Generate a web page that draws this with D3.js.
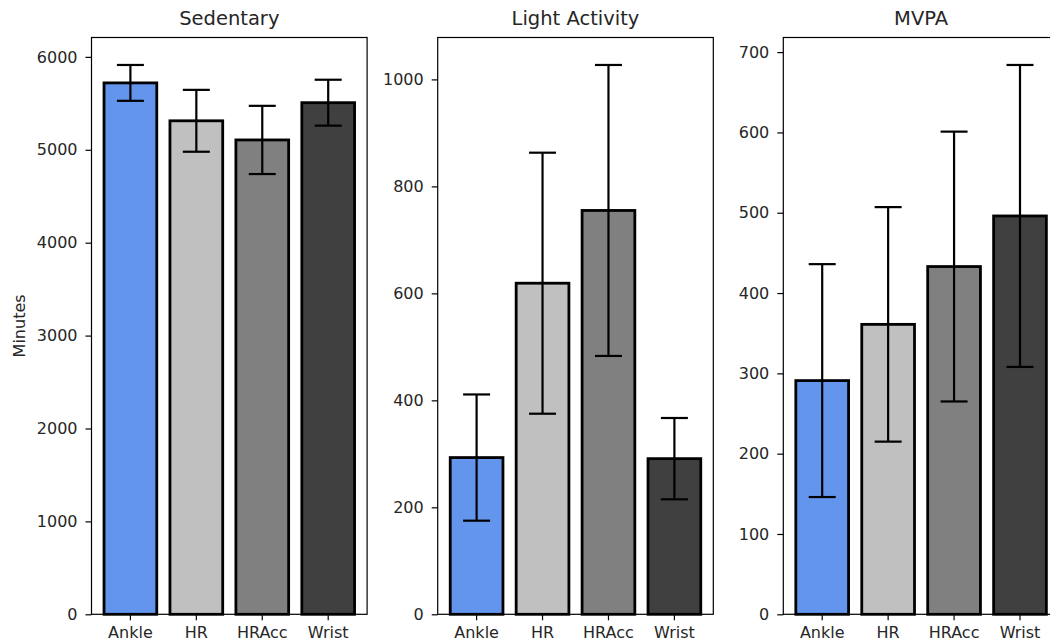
<!DOCTYPE html>
<html>
<head>
<meta charset="utf-8">
<script src="https://cdn.jsdelivr.net/npm/d3@7"></script>
<style>
  body { margin: 0; background: #fff; }
  text { font-family: "DejaVu Sans", sans-serif; fill: #262626; }
</style>
</head>
<body>
<div class="main"></div>
<script>
// categories and colours
const sensors = ["Ankle", "HR", "HRAcc", "Wrist"];
const barColors = ["#6495ED", "#C0C0C0", "#808080", "#404040"];

// panel titles
const titles = ["Sedentary", "Light Activity", "MVPA"];

// mean minutes per sensor
const sedentaryMean = [5720, 5312, 5106, 5507];
const lightMean = [293, 619, 755, 291];
const mvpaMean = [291, 361, 433, 496];

// error (± sd) per sensor
const sedentaryErr = [193, 333, 367, 247];
const lightErr = [118, 244, 272, 76];
const mvpaErr = [145, 146, 168, 188];

// y tick labels
const sedentaryTicks = [0, 1000, 2000, 3000, 4000, 5000, 6000];
const lightTicks = [0, 200, 400, 600, 800, 1000];
const mvpaTicks = [0, 100, 200, 300, 400, 500, 600, 700];

const panels = [
    { title: titles[0], mean: sedentaryMean, err: sedentaryErr, ticks: sedentaryTicks },
    { title: titles[1], mean: lightMean, err: lightErr, ticks: lightTicks },
    { title: titles[2], mean: mvpaMean, err: mvpaErr, ticks: mvpaTicks }
];

const width = 1050, height = 644;
const plotW = 275.6, plotH = 576.8;
const plotTop = 37.5;
const lefts = [91.5, 437.7, 783.3];

const svg = d3.select(".main").append("svg")
    .attr("width", width)
    .attr("height", height);

svg.append("rect").attr("width", width).attr("height", height).attr("fill", "#fff");

panels.forEach((p, k) => {
    const g = svg.append("g")
        .attr("transform", "translate(" + lefts[k] + "," + plotTop + ")");

    const x = d3.scaleBand()
        .domain(sensors)
        .range([0, plotW])
        .paddingInner(0.2)
        .paddingOuter(0.19);

    // matplotlib style: 5% headroom above the highest error cap
    const ymax = d3.max(p.mean.map((m, i) => m + p.err[i])) * 1.05;
    const y = d3.scaleLinear()
        .domain([0, ymax])
        .range([plotH, 0]);

    // frame
    g.append("rect")
        .attr("width", plotW)
        .attr("height", plotH)
        .attr("fill", "none")
        .attr("stroke", "#000")
        .attr("stroke-width", 1.2);

    const rows = sensors.map((s, i) => ({ s: s, m: p.mean[i], e: p.err[i], c: barColors[i] }));

    g.selectAll(".bar")
        .data(rows)
        .enter()
        .append("rect")
        .attr("class", "bar")
        .attr("x", d => x(d.s))
        .attr("width", x.bandwidth())
        .attr("y", d => y(d.m))
        .attr("height", d => plotH - y(d.m))
        .attr("fill", d => d.c)
        .attr("stroke", "#000")
        .attr("stroke-width", 2.8);

    const cap = 13.5;
    const eb = g.selectAll(".err")
        .data(rows)
        .enter()
        .append("g")
        .attr("class", "err")
        .attr("stroke", "#000")
        .attr("stroke-width", 2.2);

    eb.append("line")
        .attr("x1", d => x(d.s) + x.bandwidth() / 2)
        .attr("x2", d => x(d.s) + x.bandwidth() / 2)
        .attr("y1", d => y(d.m - d.e))
        .attr("y2", d => y(d.m + d.e));
    eb.append("line")
        .attr("x1", d => x(d.s) + x.bandwidth() / 2 - cap)
        .attr("x2", d => x(d.s) + x.bandwidth() / 2 + cap)
        .attr("y1", d => y(d.m + d.e))
        .attr("y2", d => y(d.m + d.e));
    eb.append("line")
        .attr("x1", d => x(d.s) + x.bandwidth() / 2 - cap)
        .attr("x2", d => x(d.s) + x.bandwidth() / 2 + cap)
        .attr("y1", d => y(d.m - d.e))
        .attr("y2", d => y(d.m - d.e));

    // axes
    const yAxis = g.append("g")
        .call(d3.axisLeft(y).tickValues(p.ticks).tickFormat(d3.format("d")).tickSize(6).tickPadding(8));
    const xAxis = g.append("g")
        .attr("transform", "translate(0," + plotH + ")")
        .call(d3.axisBottom(x).tickSize(6).tickPadding(6));

    [yAxis, xAxis].forEach(a => {
        a.select(".domain").remove();
        a.selectAll("line").attr("stroke", "#000").attr("stroke-width", 1.2);
        a.selectAll("text")
            .attr("font-family", "DejaVu Sans, sans-serif")
            .attr("font-size", 16)
            .attr("fill", "#262626");
    });

    g.append("text")
        .attr("x", plotW / 2)
        .attr("y", -13)
        .attr("text-anchor", "middle")
        .attr("font-size", 19.5)
        .text(p.title);

    if (k === 0) {
        g.append("text")
            .attr("transform", "translate(" + (-67) + "," + (plotH / 2) + ") rotate(-90)")
            .attr("text-anchor", "middle")
            .attr("font-size", 16)
            .text("Minutes");
    }
});
</script>
</body>
</html>
